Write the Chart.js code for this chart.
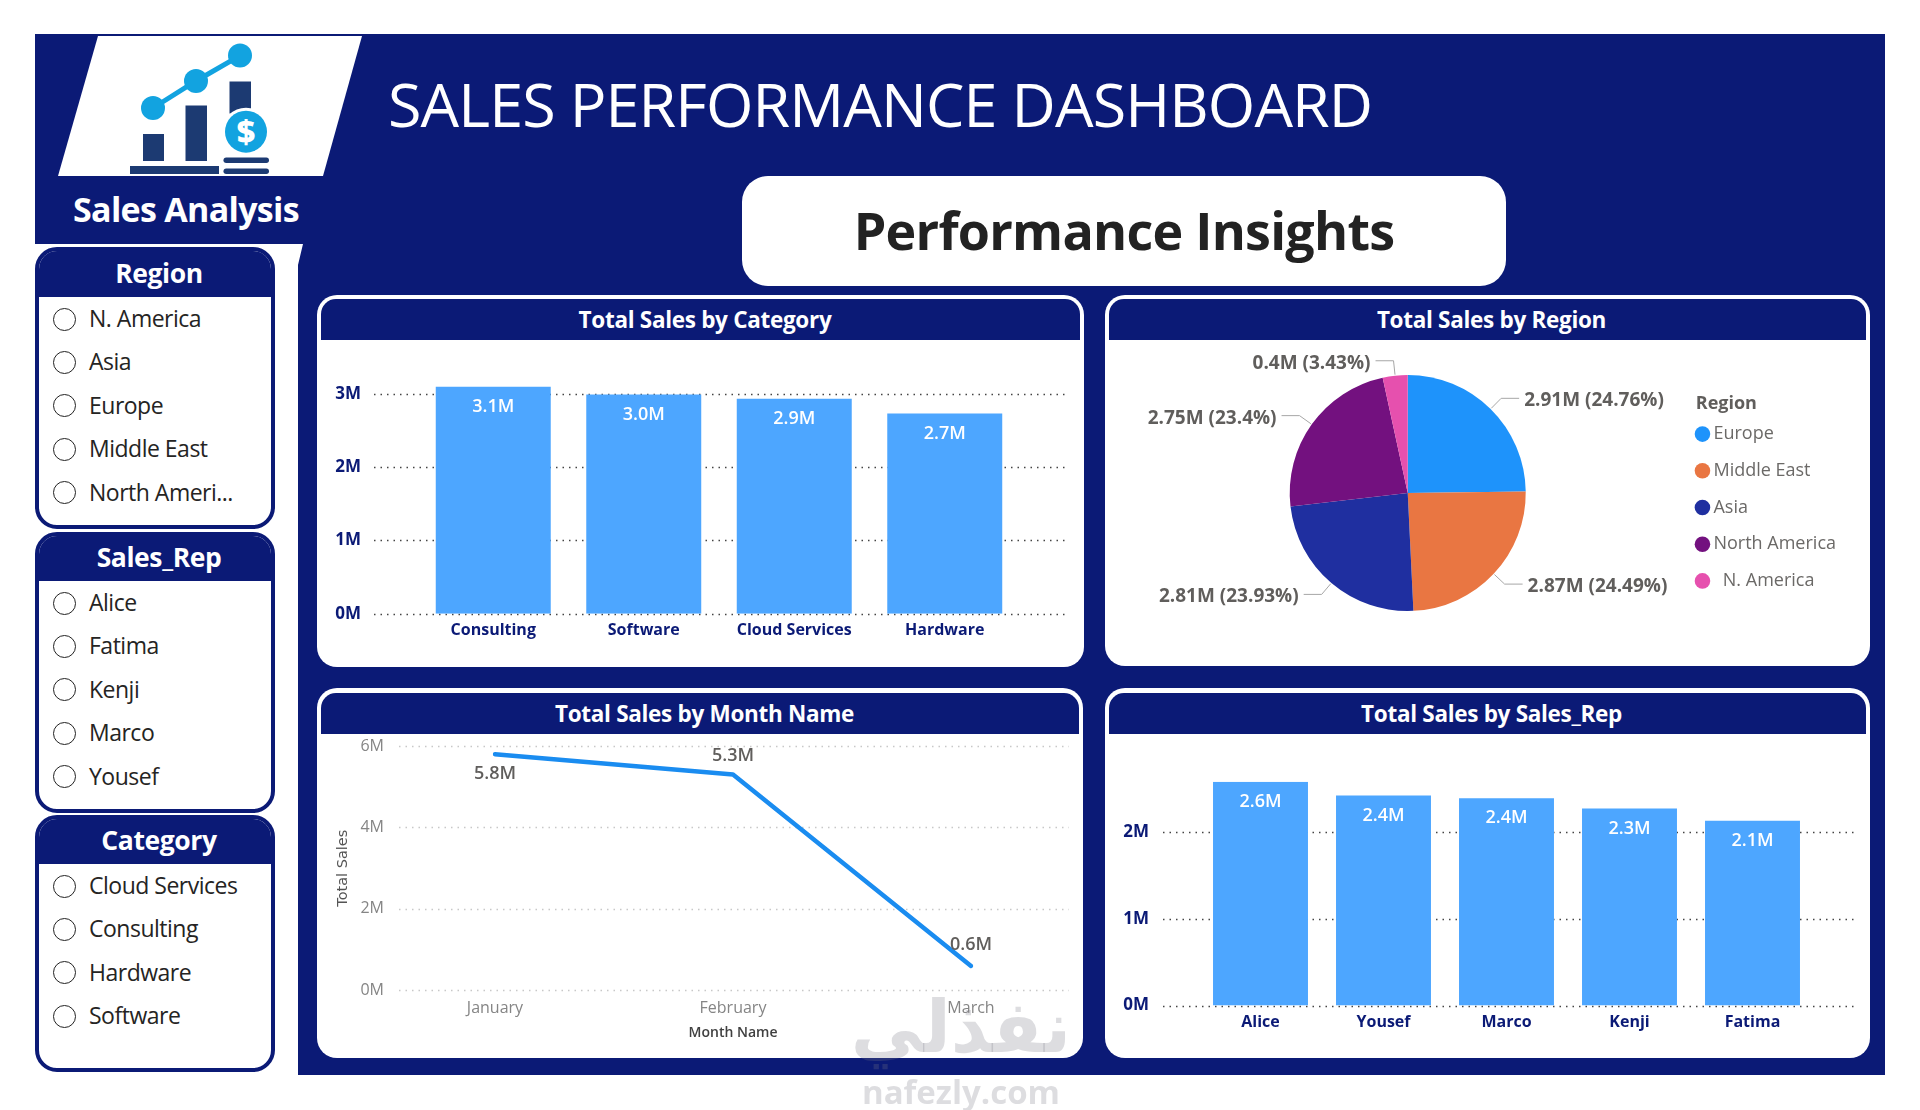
<!DOCTYPE html>
<html>
<head>
<meta charset="utf-8">
<title>Sales Performance Dashboard</title>
<script src="https://cdn.jsdelivr.net/npm/chart.js@4"></script>
<style>
    html, body { margin: 0; padding: 0; background: #fff; }
    body { width: 1920px; height: 1110px; position: relative; overflow: hidden; font-family: "Open Sans", sans-serif; }
    .abs { position: absolute; }
    #banner { left: 35px; top: 34px; width: 1850px; height: 1041px; background: #0b1a76; }
    #side { left: 0; top: 244px; width: 303px; height: 866px; background: #fff;
        clip-path: polygon(0 0, 303px 0, 298px 21px, 298px 866px, 0 866px); }
    #logo { left: 35px; top: 34px; }
    #mainTitle { left: 388px; top: 59px; color: #fff; font-size: 61px; font-weight: 400; line-height: 90px; white-space: nowrap; letter-spacing: -0.88px; }
    #brand { left: 35px; width: 302px; top: 186px; color: #fff; font-size: 34px; font-weight: 700; line-height: 46px; text-align: center; letter-spacing: -0.7px; }
    #insights { left: 742px; top: 176px; width: 764px; height: 110px; background: #fff; border-radius: 26px;
        color: #222; font-size: 52px; font-weight: 700; line-height: 108px; text-align: center; letter-spacing: -0.75px; }
    .filter { left: 35px; width: 232px; box-sizing: content-box; border: 4px solid #0b1a76; border-radius: 22px; background: #fff; overflow: hidden; }
    .filter h3 { margin: 0; background: #0b1a76; color: #fff; font-size: 26.5px; font-weight: 700; text-align: center; letter-spacing: -0.4px; padding-left: 8px; }
    .filter .row { height: 43.4px; line-height: 43.4px; font-size: 23px; color: #252423; white-space: nowrap; padding-left: 50px; position: relative; letter-spacing: -0.5px; top: -1px; }
    .filter .row i { position: absolute; left: 14px; top: 10.7px; width: 21px; height: 21px; border: 1.5px solid #222; border-radius: 50%; }
    .panel { background: #fff; border-radius: 20px; }
    .panel h2 { margin: 4.5px 4px 0; height: 41px; line-height: 41px; background: #0b1a76; color: #fff; border-radius: 15px 15px 0 0;
        font-size: 22.5px; font-weight: 700; text-align: center; letter-spacing: -0.3px; padding-left: 9px; }
    canvas { position: absolute; }
    .mark { color: rgba(120, 120, 130, 0.25); pointer-events: none; white-space: nowrap; text-align: center; }
</style>
</head>
<body>
<div id="banner" class="abs"></div>
<div id="side" class="abs"></div>

<svg id="logo" class="abs" width="340" height="150" viewBox="35 34 340 150">
    <polygon points="98,36 362,36 323,176 58,176" fill="#fff"/>
    <g fill="#1c3a72">
        <rect x="143" y="134" width="21" height="27"/>
        <rect x="185.500" y="105.500" width="21.500" height="55.500"/>
        <rect x="229.500" y="81.500" width="21.500" height="32"/>
        <rect x="130" y="166" width="89" height="8"/>
        <rect x="223.500" y="157.500" width="45.500" height="5.500" rx="2.700"/>
        <rect x="223.500" y="168.500" width="45.500" height="5.500" rx="2.700"/>
    </g>
    <polyline points="153,108 196,81 240,55.600" fill="none" stroke="#12a3e0" stroke-width="5"/>
    <g fill="#12a3e0">
        <circle cx="153" cy="108" r="12"/>
        <circle cx="196" cy="81" r="12"/>
        <circle cx="240" cy="55.600" r="12"/>
        <circle cx="246" cy="131.700" r="24" fill="#fff"/>
        <circle cx="246" cy="131.700" r="21"/>
    </g>
    <text x="246" y="143" text-anchor="middle" fill="#fff" font-family="Open Sans" font-weight="800" font-size="32">$</text>
</svg>

<div id="mainTitle" class="abs">SALES PERFORMANCE DASHBOARD</div>
<div id="brand" class="abs">Sales Analysis</div>
<div id="insights" class="abs">Performance Insights</div>

<div id="filterRegion" class="abs filter" style="top:247px;height:274px"></div>
<div id="filterRep" class="abs filter" style="top:532px;height:273px"></div>
<div id="filterCategory" class="abs filter" style="top:815px;height:249px"></div>

<div class="abs panel" style="left:317px;top:294.500px;width:767px;height:372px"><h2>Total Sales by Category</h2></div>
<div class="abs panel" style="left:1104.500px;top:294.500px;width:765px;height:371px"><h2>Total Sales by Region</h2></div>
<div class="abs panel" style="left:317px;top:688px;width:766px;height:370px"><h2>Total Sales by Month Name</h2></div>
<div class="abs panel" style="left:1104.500px;top:688px;width:765px;height:370px"><h2>Total Sales by Sales_Rep</h2></div>

<canvas id="categoryChart" style="left:330px;top:341px" width="745" height="320"></canvas>
<canvas id="regionChart" style="left:1121px;top:345px" width="739" height="296"></canvas>
<canvas id="monthChart" style="left:330px;top:733px" width="745" height="320"></canvas>
<canvas id="repChart" style="left:1110px;top:733px" width="755" height="320"></canvas>

<div class="abs mark" style="left:800px;width:322px;top:982px;font:700 72px 'DejaVu Sans';line-height:90px">نفذلي</div>
<div class="abs mark" style="left:800px;width:322px;top:1072px;font:700 33px 'Open Sans';line-height:40px">nafezly.com</div>

<script>
// values, in millions
const categoryLabels = ['Consulting', 'Software', 'Cloud Services', 'Hardware'];
const categorySales = [3.10, 2.99, 2.93, 2.73];

const regionLabels = ['Europe', 'Middle East', 'Asia', 'North America', '  N. America'];
const regionSales = [2.91, 2.87, 2.81, 2.75, 0.40];
const regionShares = ['24.76%', '24.49%', '23.93%', '23.4%', '3.43%'];
const regionColors = ['#1e93fb', '#e97642', '#1f2fa0', '#73117f', '#e650ae'];

const monthLabels = ['January', 'February', 'March'];
const monthSales = [5.8, 5.3, 0.6];
const monthTicks = [0, 2, 4, 6];

const repLabels = ['Alice', 'Yousef', 'Marco', 'Kenji', 'Fatima'];
const repSales = [2.58, 2.42, 2.39, 2.27, 2.13];

const filterRegion = ['N. America', 'Asia', 'Europe', 'Middle East', 'North Ameri...'];
const filterRep = ['Alice', 'Fatima', 'Kenji', 'Marco', 'Yousef'];
const filterCategory = ['Cloud Services', 'Consulting', 'Hardware', 'Software'];

const NAVY = '#0b1a76';
const BAR_BLUE = '#4da6ff';
const LABEL_GREY = '#605e5c';
const FONT = 'Open Sans';

Chart.defaults.font.family = FONT;
Chart.defaults.animation = false;

function buildFilter(id, title, items, headerHeight, rowOffset) {
    const box = document.getElementById(id);
    const head = document.createElement('h3');
    head.textContent = title;
    head.style.height = headerHeight + 'px';
    head.style.lineHeight = (headerHeight - 2) + 'px';
    head.style.marginBottom = rowOffset + 'px';
    box.appendChild(head);
    items.forEach(name => {
        const row = document.createElement('div');
        row.className = 'row';
        row.appendChild(document.createElement('i'));
        row.appendChild(document.createTextNode(name));
        box.appendChild(row);
    });
}

buildFilter('filterRegion', 'Region', filterRegion, 46, 1);
buildFilter('filterRep', 'Sales_Rep', filterRep, 45, 1);
buildFilter('filterCategory', 'Category', filterCategory, 45, 1);

// dotted grid that runs past the plot area on both sides
const dottedGrid = {
    id: 'dottedGrid',
    beforeDatasetsDraw(chart, args, opts) {
        const { ctx, chartArea, scales } = chart;
        ctx.save();
        ctx.strokeStyle = opts.color;
        ctx.lineWidth = 1.5;
        ctx.setLineDash([1.5, 5]);
        scales.y.ticks.forEach(tick => {
            const y = Math.round(scales.y.getPixelForValue(tick.value)) + 0.5;
            ctx.beginPath();
            ctx.moveTo(chartArea.left - opts.left, y);
            ctx.lineTo(chartArea.right + opts.right, y);
            ctx.stroke();
        });
        ctx.restore();
    }
};

// white value label inside the top of each bar
const barLabels = {
    id: 'barLabels',
    afterDatasetsDraw(chart) {
        const { ctx } = chart;
        const values = chart.data.datasets[0].data;
        ctx.save();
        ctx.fillStyle = '#fff';
        ctx.font = '600 18px ' + FONT;
        ctx.textAlign = 'center';
        ctx.textBaseline = 'middle';
        chart.getDatasetMeta(0).data.forEach((bar, i) => {
            ctx.fillText(values[i].toFixed(1) + 'M', bar.x, bar.y + 20);
        });
        ctx.restore();
    }
};

const lineLabels = {
    id: 'lineLabels',
    afterDatasetsDraw(chart, args, opts) {
        const { ctx } = chart;
        const values = chart.data.datasets[0].data;
        ctx.save();
        ctx.fillStyle = LABEL_GREY;
        ctx.font = '600 18px ' + FONT;
        ctx.textAlign = 'center';
        ctx.textBaseline = 'middle';
        chart.getDatasetMeta(0).data.forEach((pt, i) => {
            ctx.fillText(values[i].toFixed(1) + 'M', pt.x, pt.y + opts.offsets[i]);
        });
        ctx.restore();
    }
};

// outside labels with a small elbow leader
const pieLabels = {
    id: 'pieLabels',
    afterDatasetsDraw(chart) {
        const { ctx } = chart;
        const values = chart.data.datasets[0].data;
        ctx.save();
        ctx.font = '700 19px ' + FONT;
        ctx.textBaseline = 'middle';
        chart.getDatasetMeta(0).data.forEach((arc, i) => {
            const mid = (arc.startAngle + arc.endAngle) / 2;
            const right = Math.cos(mid) > 0;
            const sx = arc.x + Math.cos(mid) * (arc.outerRadius + 1);
            const sy = arc.y + Math.sin(mid) * (arc.outerRadius + 1);
            const ex = arc.x + Math.cos(mid) * (arc.outerRadius + 15);
            const ey = arc.y + Math.sin(mid) * (arc.outerRadius + 15);
            const hx = ex + (right ? 18 : -18);
            ctx.strokeStyle = '#a6a6a6';
            ctx.lineWidth = 1;
            ctx.beginPath();
            ctx.moveTo(sx, sy);
            ctx.lineTo(ex, ey);
            ctx.lineTo(hx, ey);
            ctx.stroke();
            ctx.fillStyle = LABEL_GREY;
            ctx.textAlign = right ? 'left' : 'right';
            ctx.fillText(values[i].toFixed(2).replace(/0$/, '') + 'M (' + regionShares[i] + ')', hx + (right ? 5 : -5), ey + 2.5);
        });
        ctx.restore();
    }
};

function barChart(id, labels, values, opts) {
    return new Chart(document.getElementById(id), {
        type: 'bar',
        data: {
            labels: labels,
            datasets: [{ data: values, backgroundColor: BAR_BLUE, categoryPercentage: 1, barPercentage: opts.barPercentage }]
        },
        plugins: [dottedGrid, barLabels],
        options: {
            responsive: false,
            layout: { padding: { top: opts.top, right: opts.right, left: 0, bottom: 0 } },
            plugins: {
                legend: { display: false },
                tooltip: { enabled: false },
                dottedGrid: { color: '#444', left: opts.gridLeft, right: opts.gridRight }
            },
            scales: {
                x: {
                    grid: { display: false, drawTicks: false },
                    border: { display: false },
                    ticks: { color: NAVY, font: { size: 16, weight: 700 }, padding: 7, maxRotation: 0, autoSkip: false },
                    afterFit: axis => { axis.height = opts.bottom; }
                },
                y: {
                    min: 0,
                    max: opts.max,
                    grid: { display: false, drawTicks: false },
                    border: { display: false },
                    ticks: {
                        stepSize: 1,
                        includeBounds: false,
                        color: NAVY,
                        font: { size: 17, weight: 700 },
                        padding: opts.tickPad,
                        callback: value => value + 'M'
                    },
                    afterFit: axis => {
                        axis.width = opts.left;
                        axis.paddingTop = 0;
                        axis.paddingBottom = 0;
                    }
                }
            }
        }
    });
}

barChart('categoryChart', categoryLabels, categorySales, {
    barPercentage: 0.764, max: 3.1, top: 45.400, bottom: 47.300, left: 88, right: 55,
    gridLeft: 44, gridRight: 47, tickPad: 57
});

barChart('repChart', repLabels, repSales, {
    barPercentage: 0.772, max: 2.58, top: 48.700, bottom: 47.400, left: 89, right: 51,
    gridLeft: 36, gridRight: 41, tickPad: 50
});

new Chart(document.getElementById('regionChart'), {
    type: 'pie',
    data: {
        labels: regionLabels,
        datasets: [{ data: regionSales, backgroundColor: regionColors, borderWidth: 0 }]
    },
    plugins: [pieLabels],
    options: {
        responsive: false,
        layout: { padding: { top: 30, bottom: 30, left: 12.700, right: 14 } },
        plugins: {
            tooltip: { enabled: false },
            legend: {
                position: 'right',
                align: 'center',
                title: { display: true, text: '   Region', color: LABEL_GREY, position: 'start', font: { size: 18, weight: 700 }, padding: { top: 17, bottom: -9.600 } },
                labels: { usePointStyle: true, pointStyle: 'circle', boxWidth: 4, boxHeight: 11, padding: 18.700, color: '#6b6967', font: { size: 18 } }
            }
        }
    }
});

new Chart(document.getElementById('monthChart'), {
    type: 'line',
    data: {
        labels: monthLabels,
        datasets: [{ data: monthSales, borderColor: '#1a8cf0', borderWidth: 4.500, tension: 0, pointRadius: 0, borderCapStyle: 'round', borderJoinStyle: 'round' }]
    },
    plugins: [dottedGrid, lineLabels],
    options: {
        responsive: false,
        layout: { padding: { top: 13, right: 104, left: 0, bottom: 0 } },
        plugins: {
            legend: { display: false },
            tooltip: { enabled: false },
            dottedGrid: { color: '#c8c8c8', left: 96, right: 98 },
            lineLabels: { offsets: [19.700, -19, -20.600] }
        },
        scales: {
            x: {
                grid: { display: false, drawTicks: false },
                border: { display: false },
                ticks: { color: '#858585', font: { size: 16 }, padding: 8, maxRotation: 0, autoSkip: false },
                title: { display: true, text: 'Month Name', color: '#404040', font: { size: 14, weight: 600 }, padding: { top: 2, bottom: 12 } },
                afterFit: axis => { axis.height = 62.600; }
            },
            y: {
                min: 0,
                max: 6,
                afterBuildTicks: axis => { axis.ticks = monthTicks.map(value => ({ value })); },
                grid: { display: false, drawTicks: false },
                border: { display: false },
                ticks: { color: '#858585', font: { size: 16 }, padding: 111, callback: value => value + 'M' },
                title: { display: true, text: 'Total Sales', color: '#555', font: { family: 'DejaVu Sans', size: 14.500 }, padding: { top: 5, bottom: 0 } },
                afterFit: axis => {
                    axis.width = 165;
                    axis.paddingTop = 0;
                    axis.paddingBottom = 0;
                }
            }
        }
    }
});
</script>
</body>
</html>
